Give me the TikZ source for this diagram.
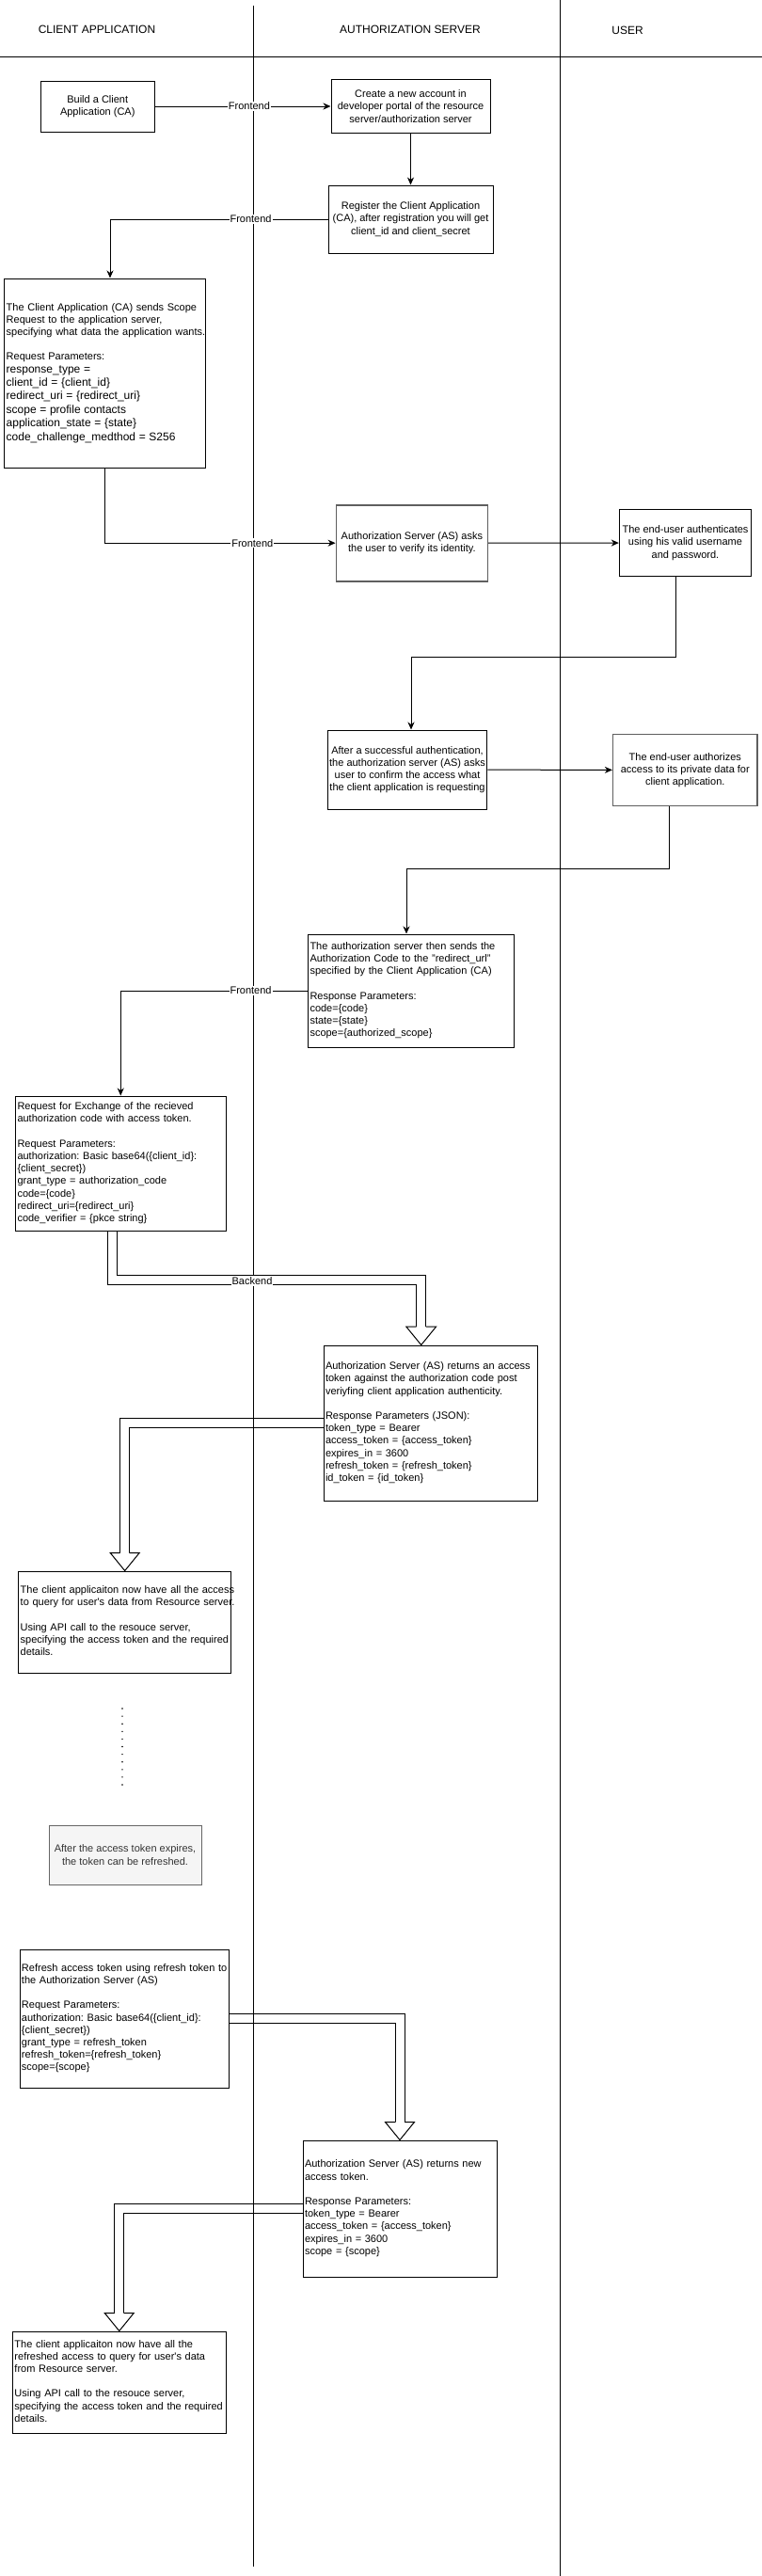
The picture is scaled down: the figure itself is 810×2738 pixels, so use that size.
\documentclass[tikz,border=0pt]{standalone}
\usepackage{fontspec}
\setmainfont{Liberation Sans}
\usetikzlibrary{positioning,arrows.meta,backgrounds}
\definecolor{notefill}{RGB}{245,245,245}
\definecolor{noteline}{RGB}{102,102,102}
\definecolor{notetext}{RGB}{51,51,51}
\definecolor{boldgray}{RGB}{95,95,95}
\newcommand{\textrows}[1]{\begin{tabular}{@{}l@{}}#1\end{tabular}}
\newcommand{\bigrow}{\fontsize{12}{14.4}\selectfont}
\frenchspacing

\begin{document}
\begin{tikzpicture}[x=1pt,y=1pt,inner sep=2pt,font=\fontsize{11}{13.2}\selectfont]
\tikzstyle{lanehead}=[font=\fontsize{12}{14.4}\selectfont]
\tikzstyle{proc}=[rectangle, draw=black, line width=1pt, fill=white, align=center]
\tikzstyle{card}=[rectangle, draw=black, line width=1pt, fill=white, align=left]
\tikzstyle{hold}=[proc, draw=boldgray, line width=1.6pt]
\tikzstyle{note}=[proc, fill=notefill, draw=noteline, text=notetext]
\tikzstyle{flow}=[-{Stealth[length=8pt,width=7pt,inset=2.5pt]}, line width=1pt]
\tikzstyle{fat}=[line width=1pt, double=white, double distance=9pt]
\tikzstyle{lbl}=[fill=white, inner sep=1pt]
\useasboundingbox (0,0) rectangle (810,-2738);
% lanes
\draw[line width=1pt] (0,-61) -- (810,-61);
\draw[line width=1pt] (269,-6) -- (269,-2728);
\draw[line width=1pt] (595,0) -- (595,-2738);
\node[lanehead] (cahead) at (103,-31) {CLIENT APPLICATION};
\node[lanehead] (ashead) at (436,-31) {AUTHORIZATION SERVER};
\node[lanehead] (userhead) at (667,-32) {USER};
% registration
\node[proc, minimum width=121.5pt, minimum height=54pt] (build) at (103.75,-113) {Build a Client\\Application (CA)};
\node[proc, minimum width=169pt, minimum height=57pt] (create) at (436.5,-113) {Create a new account in\\developer portal of the resource\\server/authorization server};
\node[proc, minimum width=175pt, minimum height=72pt] (register) at (436.5,-233) {Register the Client Application\\(CA), after registration you will get\\client\_id and client\_secret};
\node[card, text width=209.3pt, minimum height=201pt] (scope) at (111.35,-396.5) {\textrows{The Client Application (CA) sends Scope\\
Request to the application server,\\
specifying what data the application wants.\\ \\
Request Parameters:\\
\bigrow response\_type =\\[1.2pt]
\bigrow client\_id = \{client\_id\}\\[1.2pt]
\bigrow redirect\_uri = \{redirect\_uri\}\\[1.2pt]
\bigrow scope = profile contacts\\[1.2pt]
\bigrow application\_state = \{state\}\\[1.2pt]
\bigrow code\_challenge\_medthod = S256}};
% user consent
\node[hold, minimum width=161pt, minimum height=81pt] (asks) at (437.9,-577.2) {Authorization Server (AS) asks\\the user to verify its identity.};
\node[proc, minimum width=140.4pt, minimum height=70.6pt] (user1) at (728.5,-577) {The end-user authenticates\\using his valid username\\and password.};
\node[proc, minimum width=168pt, minimum height=84pt] (confirm) at (433,-818) {After a successful authentication,\\the authorization server (AS) asks\\user to confirm the access what\\the client application is requesting};
\node[hold, minimum width=153.3pt, minimum height=75.7pt] (user2) at (728.3,-818.5) {The end-user authorizes\\access to its private data for\\client application.};
% code exchange
\node[card, text width=214.5pt, minimum height=120pt] (code) at (436.75,-1053) {\textrows{The authorization server then sends the\\
Authorization Code to the "redirect\_url"\\
specified by the Client Application (CA)\\ \\
Response Parameters:\\
code=\{code\}\\
state=\{state\}\\
scope=\{authorized\_scope\}}};
\node[card, text width=219.5pt, minimum height=143pt] (xchg) at (128.25,-1236.5) {\textrows{Request for Exchange of the recieved\\
authorization code with access token.\\ \\
Request Parameters:\\
authorization: Basic base64(\{client\_id\}:\\
\{client\_secret\})\\
grant\_type = authorization\_code\\
code=\{code\}\\
redirect\_uri=\{redirect\_uri\}\\
code\_verifier = \{pkce string\}}};
\node[card, text width=223pt, minimum height=165pt] (token) at (457.5,-1512.5) {\textrows{Authorization Server (AS) returns an access\\
token against the authorization code post\\
veriyfing client application authenticity.\\ \\
Response Parameters (JSON):\\
token\_type = Bearer\\
access\_token = \{access\_token\}\\
expires\_in = 3600\\
refresh\_token = \{refresh\_token\}\\
id\_token = \{id\_token\}}};
\node[card, text width=222pt, minimum height=108pt] (access1) at (132.7,-1724) {\textrows{The client applicaiton now have all the access\\
to query for user\textquotesingle s data from Resource server.\\ \\
Using API call to the resouce server,\\
specifying the access token and the required\\
details.}};
% refresh
\node[note, minimum width=162pt, minimum height=63pt] (expire) at (133,-1971.5) {After the access token expires,\\the token can be refreshed.};
\node[card, text width=218.7pt, minimum height=147pt] (refresh) at (132.35,-2145.5) {\textrows{Refresh access token using refresh token to\\
the Authorization Server (AS)\\ \\
Request Parameters:\\
authorization: Basic base64(\{client\_id\}:\\
\{client\_secret\})\\
grant\_type = refresh\_token\\
refresh\_token=\{refresh\_token\}\\
scope=\{scope\}}};
\node[card, text width=202pt, minimum height=145pt] (newtoken) at (425,-2347.5) {\textrows{Authorization Server (AS) returns new\\
access token.\\ \\
Response Parameters:\\
token\_type = Bearer\\
access\_token = \{access\_token\}\\
expires\_in = 3600\\
scope = \{scope\}}};
\node[card, text width=222.5pt, minimum height=108pt] (access2) at (126.75,-2532) {\textrows{The client applicaiton now have all the\\
refreshed access to query for user\textquotesingle s data\\
from Resource server.\\ \\
Using API call to the resouce server,\\
specifying the access token and the required\\
details.}};
% frontend arrows
\draw[flow] (build) -- node[lbl,pos=.536] {Frontend} (create);
\draw[flow] (create) -- (register);
\draw[flow] (register.west) -| node[lbl,pos=.177] {Frontend} ([xshift=5.65pt]scope.north);
\draw[flow] (scope.south) |- node[lbl,pos=.82] {Frontend} (asks.west);
\draw[flow] (asks) -- (user1);
\draw[flow] ([xshift=-10.2pt]user1.south) -- ++(0,-85.7) -| ([xshift=4pt]confirm.north);
\draw[flow] (confirm) -- (user2);
\draw[flow] ([xshift=-16.6pt]user2.south) -- ++(0,-66.3) -| ([xshift=-4.75pt]code.north);
\draw[flow] (code.west) -| node[lbl,pos=.152] {Frontend} (xchg.north);
% backend arrows
\coordinate (tip1) at ([xshift=-9.8pt]token.north);
\begin{pgfonlayer}{background}
\draw[fat] ([xshift=-9pt]xchg.south) -- ++(0,-52.2) -| ([yshift=19.3pt]tip1);
\draw[fat] (token.west) -| ([yshift=19pt]access1.north);
\draw[fat] (refresh.east) -| ([yshift=19pt]newtoken.north);
\draw[fat] (newtoken.west) -| ([yshift=19pt]access2.north);
\draw[line width=1pt, fill=white] ([shift={(-5,19.3)}]tip1) -- ++(-10.8,0) -- (tip1) -- ++(15.8,19.3) -- ++(-10.8,0);
\draw[line width=1pt, fill=white] ([shift={(-5,19)}]access1.north) -- ++(-10.5,0) -- (access1.north) -- ++(15.5,19) -- ++(-10.5,0);
\draw[line width=1pt, fill=white] ([shift={(-5,19)}]newtoken.north) -- ++(-10.5,0) -- (newtoken.north) -- ++(15.5,19) -- ++(-10.5,0);
\draw[line width=1pt, fill=white] ([shift={(-5,19)}]access2.north) -- ++(-10.5,0) -- (access2.north) -- ++(15.5,19) -- ++(-10.5,0);
\end{pgfonlayer}
\node[lbl] (backend) at (268,-1361.5) {Backend};
% waiting
\draw[line width=1.6pt, line cap=round, dash pattern=on 0pt off 8.1pt] (130,-1816) -- (130,-1897);
\end{tikzpicture}
\end{document}
